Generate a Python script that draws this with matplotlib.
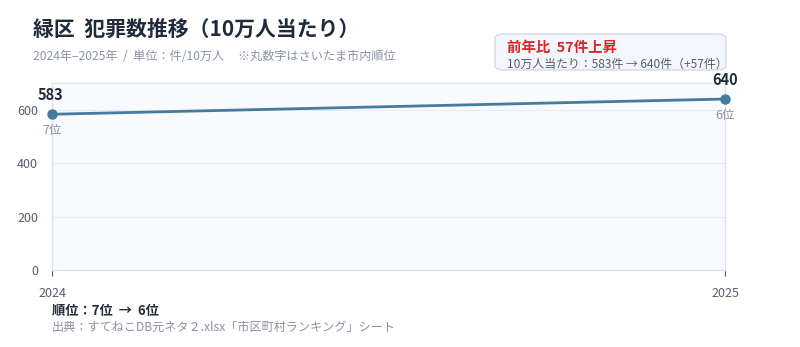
import matplotlib
matplotlib.use("Agg")
from matplotlib import pyplot as plt
from matplotlib.patches import FancyBboxPatch

plt.rcParams['font.family'] = ['Noto Sans CJK JP', 'DejaVu Sans']

years = [2024, 2025]
crime_rate = [583, 640]
ranks = ['7位', '6位']
title = '緑区  犯罪数推移（10万人当たり）'
subtitle = '2024年–2025年  /  単位：件/10万人     ※丸数字はさいたま市内順位'
source = '出典：すてねこDB元ネタ２.xlsx「市区町村ランキング」シート'

dark = '#1f2a3a'
gray = '#8a93a3'
line_c = '#457b9d'

fig = plt.figure(figsize=(8, 3.47), dpi=100)
ax = fig.add_axes([52 / 800, 1 - 270 / 347, 673 / 800, 187 / 347])
ax.set_facecolor('#f8fafd')

ax.plot(years, crime_rate, color=line_c, lw=2.0, marker='o', ms=6.5, zorder=3, clip_on=False)
ax.set_xlim(years[0], years[-1])
ax.set_ylim(0, 700)
ax.set_yticks([0, 200, 400, 600])
ax.set_xticks(years)
ax.grid(axis='y', color='#e6eaf2', lw=0.8)
ax.grid(axis='x', visible=False)
for s in ax.spines.values():
    s.set_color('#dde3ee')
    s.set_linewidth(1)
ax.tick_params(axis='y', length=0, labelsize=9, labelcolor='#555e6d', pad=10)
ax.tick_params(axis='x', length=4, color='#555e6d', labelsize=9, labelcolor='#555e6d', pad=8)

# point labels
ax.annotate(str(crime_rate[0]), (years[0], crime_rate[0]), xytext=(-1, 8), textcoords='offset points',
            ha='center', va='bottom', fontsize=10.5, fontweight='bold', color=dark)
ax.annotate(ranks[0], (years[0], crime_rate[0]), xytext=(0, -7), textcoords='offset points',
            ha='center', va='top', fontsize=9, color=gray)
ax.annotate(str(crime_rate[1]), (years[1], crime_rate[1]), xytext=(0, 8), textcoords='offset points',
            ha='center', va='bottom', fontsize=10.5, fontweight='bold', color=dark)
ax.annotate(ranks[1], (years[1], crime_rate[1]), xytext=(0, -7), textcoords='offset points',
            ha='center', va='top', fontsize=9, color=gray)

fig.text(33 / 800, 1 - 29 / 347, title, fontsize=15, fontweight='bold', color=dark, va='center')
fig.text(33 / 800, 1 - 57 / 347, subtitle, fontsize=8.7, color=gray, va='center')

box = FancyBboxPatch((495 / 800, 1 - 70 / 347), 231 / 800, 36 / 347,
                     boxstyle='round,pad=0,rounding_size=0.012', transform=fig.transFigure,
                     facecolor='#f3f6fb', edgecolor='#d3dae6', lw=1)
fig.patches.append(box)
diff = crime_rate[1] - crime_rate[0]
fig.text(507 / 800, 1 - 48 / 347, f'前年比  {diff}件上昇', fontsize=10.4, fontweight='bold',
         color='#d62828', va='center')
fig.text(507 / 800, 1 - 64 / 347,
         f'10万人当たり：{crime_rate[0]}件 → {crime_rate[1]}件（+{diff}件）',
         fontsize=8.6, color='#555e6d', va='center')

fig.text(52 / 800, 1 - 311 / 347, f'順位：{ranks[0]}  →  {ranks[1]}', fontsize=9.5,
         fontweight='bold', color=dark, va='center')
fig.text(52 / 800, 1 - 327 / 347, source, fontsize=8.7, color=gray, va='center')

fig.savefig('out.png', dpi=100, facecolor='white')
